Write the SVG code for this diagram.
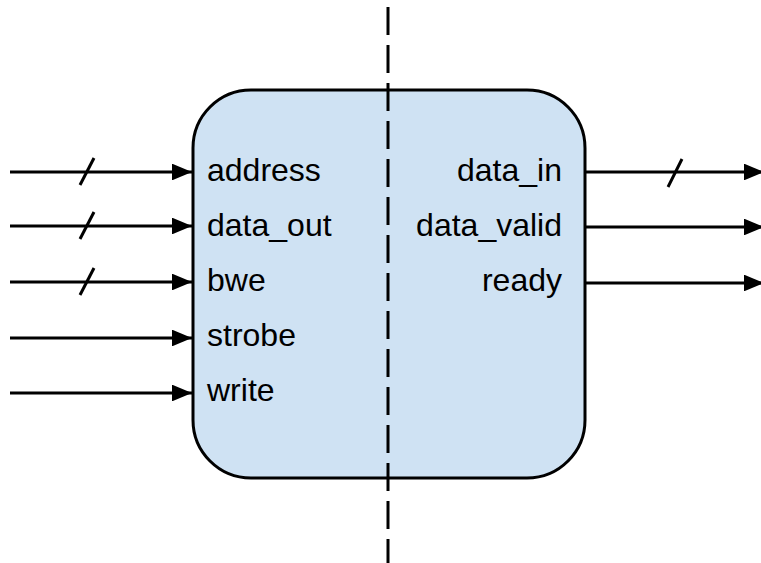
<svg xmlns="http://www.w3.org/2000/svg" width="761" height="563" viewBox="0 0 761 563">
<defs>
<style>
.wire{stroke:#000;stroke-width:3;fill:none}
.slash{stroke:#000;stroke-width:3;fill:none}
.lbl{font-family:"Liberation Sans",Arial,sans-serif;font-size:32px;fill:#000}
.r{text-anchor:end}
</style>
<marker id="ah" markerWidth="6.7" markerHeight="5.6" refX="6.7" refY="2.8" orient="auto" markerUnits="strokeWidth">
<path d="M0,0 L6.7,2.8 L0,5.6 Z" fill="#000"/>
</marker>
</defs>
<g id="block">
<rect x="193" y="90" width="392" height="388" rx="58" ry="58" fill="#cfe2f3" stroke="#000" stroke-width="3"/>
</g>
<g id="divider">
<line x1="388" y1="7" x2="388" y2="563" stroke="#000" stroke-width="3" stroke-dasharray="28 10"/>
</g>
<g id="connectors">
<line class="wire" x1="10" y1="172" x2="192" y2="172" marker-end="url(#ah)"/>
<line class="wire" x1="10" y1="226" x2="192" y2="226" marker-end="url(#ah)"/>
<line class="wire" x1="10" y1="282" x2="192" y2="282" marker-end="url(#ah)"/>
<line class="wire" x1="10" y1="338" x2="192" y2="338" marker-end="url(#ah)"/>
<line class="wire" x1="10" y1="393" x2="192" y2="393" marker-end="url(#ah)"/>
<line class="slash" x1="80" y1="185" x2="94" y2="158"/>
<line class="slash" x1="80" y1="239" x2="94" y2="212"/>
<line class="slash" x1="80" y1="295" x2="94" y2="268"/>
<line class="wire" x1="585" y1="172" x2="764" y2="172" marker-end="url(#ah)"/>
<line class="wire" x1="585" y1="227" x2="764" y2="227" marker-end="url(#ah)"/>
<line class="wire" x1="585" y1="283" x2="764" y2="283" marker-end="url(#ah)"/>
<line class="slash" x1="668" y1="187" x2="682" y2="159"/>
</g>
<g id="labels">
<text class="lbl" x="207" y="181">address</text>
<text class="lbl" x="207" y="236">data_out</text>
<text class="lbl" x="207" y="291">bwe</text>
<text class="lbl" x="207" y="346">strobe</text>
<text class="lbl" x="207" y="401">write</text>
<text class="lbl r" x="562" y="181">data_in</text>
<text class="lbl r" x="562" y="236">data_valid</text>
<text class="lbl r" x="562" y="291">ready</text>
</g>
</svg>
